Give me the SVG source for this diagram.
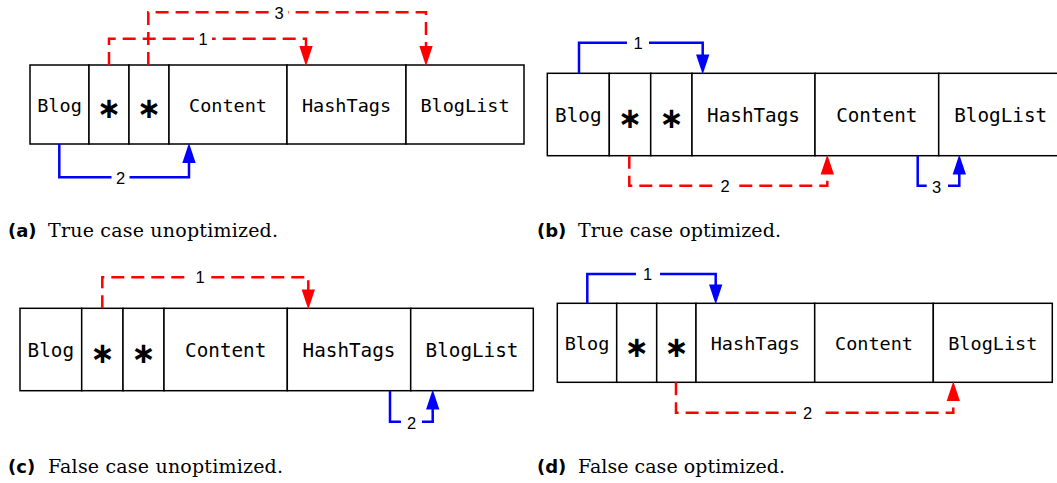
<svg xmlns="http://www.w3.org/2000/svg" width="1057" height="483" viewBox="0 0 1057 483">
<style>
.cell{fill:#fff;stroke:#000;stroke-width:1.5}
.t{font-family:"DejaVu Sans Mono",monospace;text-anchor:middle;fill:#000}
.ast{font-family:"DejaVu Sans","Liberation Sans",sans-serif;font-weight:bold;text-anchor:middle;fill:#000;font-size:29px}
.red{fill:none;stroke:#ff0000;stroke-width:2.5;stroke-dasharray:13 7}
.blue{fill:none;stroke:#0000ff;stroke-width:2.5}
.lbl{font-family:"Liberation Sans",Arial,sans-serif;font-size:16.5px;text-anchor:middle;fill:#000}
.bg{fill:#fff}
.capb{font-family:"DejaVu Sans",sans-serif;font-weight:bold;font-size:18px;fill:#000}
.caps{font-family:"DejaVu Serif","Liberation Serif",serif;font-size:19px;fill:#000}
</style>
<defs>
<marker id="ar" markerUnits="userSpaceOnUse" markerWidth="20" markerHeight="14" viewBox="0 0 18 12" refX="8" refY="6" orient="auto"><path d="M0,0 L18,6 L0,12 z" fill="#ff0000"/></marker>
<marker id="ab" markerUnits="userSpaceOnUse" markerWidth="20" markerHeight="14" viewBox="0 0 18 12" refX="8" refY="6" orient="auto"><path d="M0,0 L18,6 L0,12 z" fill="#0000ff"/></marker>
</defs>

<!-- Panel a -->
<g id="a-nodes">
<g id="a-blog"><rect class="cell" x="30" y="65" width="59" height="79"/><text class="t" x="59.5" y="112" font-size="18.5">Blog</text></g>
<g id="a-star1"><rect class="cell" x="89" y="65" width="40" height="79"/><text class="ast" x="109" y="118">∗</text></g>
<g id="a-star2"><rect class="cell" x="129" y="65" width="40" height="79"/><text class="ast" x="149" y="118">∗</text></g>
<g id="a-content"><rect class="cell" x="169" y="65" width="118" height="79"/><text class="t" x="228" y="112" font-size="18.5">Content</text></g>
<g id="a-hashtags"><rect class="cell" x="287" y="65" width="119" height="79"/><text class="t" x="346.5" y="112" font-size="18.5">HashTags</text></g>
<g id="a-bloglist"><rect class="cell" x="406" y="65" width="118" height="79"/><text class="t" x="465" y="112" font-size="18.5">BlogList</text></g>
</g>
<g id="a-connectors">
<path class="red" d="M109,65 V38.7 H306 V55" marker-end="url(#ar)"/>
<path class="red" d="M148.3,65 V12.3 H426 V55" marker-end="url(#ar)"/>
<path class="blue" d="M59.3,144 V177.3 H189 V154" marker-end="url(#ab)"/>
<rect class="bg" x="194" y="31" width="18" height="15"/><text class="lbl" x="203" y="44.5">1</text>
<rect class="bg" x="270" y="5" width="18" height="15"/><text class="lbl" x="279" y="18.5">3</text>
<rect class="bg" x="111.5" y="170" width="18" height="15"/><text class="lbl" x="120.5" y="183.5">2</text>
</g>
<text class="capb" x="8" y="237">(a)</text>
<text class="caps" x="48" y="237" textLength="230" lengthAdjust="spacing">True case unoptimized.</text>

<!-- Panel b -->
<g id="b-nodes">
<g id="b-blog"><rect class="cell" x="547.3" y="73.3" width="62" height="82.4"/><text class="t" x="578.3" y="121.7" font-size="19.3">Blog</text></g>
<g id="b-star1"><rect class="cell" x="609.3" y="73.3" width="41.4" height="82.4"/><text class="ast" x="630" y="128">∗</text></g>
<g id="b-star2"><rect class="cell" x="650.7" y="73.3" width="41.3" height="82.4"/><text class="ast" x="671.3" y="128">∗</text></g>
<g id="b-hashtags"><rect class="cell" x="692" y="73.3" width="123" height="82.4"/><text class="t" x="753.5" y="121.7" font-size="19.3">HashTags</text></g>
<g id="b-content"><rect class="cell" x="815" y="73.3" width="123.7" height="82.4"/><text class="t" x="876.8" y="121.7" font-size="19.3">Content</text></g>
<g id="b-bloglist"><rect class="cell" x="938.7" y="73.3" width="124" height="82.4"/><text class="t" x="1000.7" y="121.7" font-size="19.3">BlogList</text></g>
</g>
<g id="b-connectors">
<path class="blue" d="M579,73.3 V42.7 H702.7 V63.3" marker-end="url(#ab)"/>
<path class="red" d="M629.3,155.7 V185.7 H827.3 V165.7" marker-end="url(#ar)"/>
<path class="blue" d="M917.7,155.7 V185.7 H959.3 V165.7" marker-end="url(#ab)"/>
<rect class="bg" x="627" y="35" width="22" height="15"/><text class="lbl" x="638" y="48.5">1</text>
<rect class="bg" x="716" y="178" width="18" height="15"/><text class="lbl" x="725" y="191.5">2</text>
<rect class="bg" x="926.7" y="178" width="21.3" height="16"/><text class="lbl" x="936.5" y="192.5">3</text>
</g>
<text class="capb" x="537" y="237">(b)</text>
<text class="caps" x="578" y="237" textLength="203" lengthAdjust="spacing">True case optimized.</text>

<!-- Panel c -->
<g id="c-nodes">
<g id="c-blog"><rect class="cell" x="20" y="308.3" width="61.7" height="82.4"/><text class="t" x="50.8" y="356.7" font-size="19.3">Blog</text></g>
<g id="c-star1"><rect class="cell" x="81.7" y="308.3" width="41.3" height="82.4"/><text class="ast" x="102.3" y="363">∗</text></g>
<g id="c-star2"><rect class="cell" x="123" y="308.3" width="41" height="82.4"/><text class="ast" x="143.5" y="363">∗</text></g>
<g id="c-content"><rect class="cell" x="164" y="308.3" width="123.3" height="82.4"/><text class="t" x="225.7" y="356.7" font-size="19.3">Content</text></g>
<g id="c-hashtags"><rect class="cell" x="287.3" y="308.3" width="123.4" height="82.4"/><text class="t" x="349" y="356.7" font-size="19.3">HashTags</text></g>
<g id="c-bloglist"><rect class="cell" x="410.7" y="308.3" width="122.6" height="82.4"/><text class="t" x="472" y="356.7" font-size="19.3">BlogList</text></g>
</g>
<g id="c-connectors">
<path class="red" d="M102.3,308.3 V277.3 H308.3 V298.3" marker-end="url(#ar)"/>
<path class="blue" d="M390,390.7 V421.7 H432.7 V400.7" marker-end="url(#ab)"/>
<rect class="bg" x="191" y="270" width="18" height="15"/><text class="lbl" x="200" y="283">1</text>
<rect class="bg" x="401" y="414" width="21" height="16"/><text class="lbl" x="411.7" y="428.5">2</text>
</g>
<text class="capb" x="8" y="473">(c)</text>
<text class="caps" x="48" y="473" textLength="235" lengthAdjust="spacing">False case unoptimized.</text>

<!-- Panel d -->
<g id="d-nodes">
<g id="d-blog"><rect class="cell" x="557.3" y="303.3" width="59.4" height="79"/><text class="t" x="587" y="350" font-size="18.5">Blog</text></g>
<g id="d-star1"><rect class="cell" x="616.7" y="303.3" width="40" height="79"/><text class="ast" x="636.7" y="356.5">∗</text></g>
<g id="d-star2"><rect class="cell" x="656.7" y="303.3" width="39.3" height="79"/><text class="ast" x="676.3" y="356.5">∗</text></g>
<g id="d-hashtags"><rect class="cell" x="696" y="303.3" width="118.7" height="79"/><text class="t" x="755.3" y="350" font-size="18.5">HashTags</text></g>
<g id="d-content"><rect class="cell" x="814.7" y="303.3" width="118.6" height="79"/><text class="t" x="874" y="350" font-size="18.5">Content</text></g>
<g id="d-bloglist"><rect class="cell" x="933.3" y="303.3" width="119" height="79"/><text class="t" x="992.8" y="350" font-size="18.5">BlogList</text></g>
</g>
<g id="d-connectors">
<path class="blue" d="M587.3,303.3 V274 H715.7 V293.3" marker-end="url(#ab)"/>
<path class="red" d="M676,382.3 V412.7 H953.3 V392.3" marker-end="url(#ar)"/>
<rect class="bg" x="636" y="266" width="24" height="15"/><text class="lbl" x="647.7" y="280">1</text>
<rect class="bg" x="796" y="405" width="24" height="15"/><text class="lbl" x="807.7" y="418.7">2</text>
</g>
<text class="capb" x="537" y="473">(d)</text>
<text class="caps" x="578" y="473" textLength="207" lengthAdjust="spacing">False case optimized.</text>
</svg>
